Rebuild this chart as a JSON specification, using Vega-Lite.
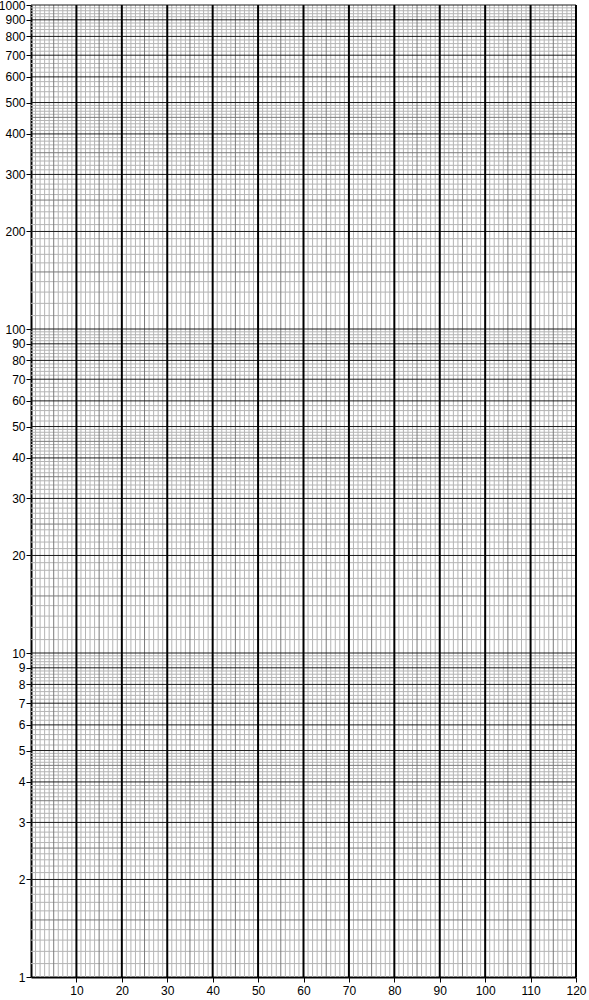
{
  "$schema": "https://vega.github.io/schema/vega-lite/v6.json",
  "width": 545,
  "height": 972,
  "autosize": "none",
  "padding": {"left": 31, "top": 5, "right": 13, "bottom": 23},
  "background": "white",
  "config": {
    "view": {"stroke": null},
    "axis": {"labelFont": "Liberation Sans", "labelFontSize": 12, "labelColor": "black", "tickColor": "black", "domainColor": "black", "grid": false, "title": null}
  },
  "datasets": {
    "vminor": [
      {"x":1},{"x":2},{"x":3},{"x":4},{"x":6},{"x":7},{"x":8},{"x":9},
      {"x":11},{"x":12},{"x":13},{"x":14},{"x":16},{"x":17},{"x":18},{"x":19},
      {"x":21},{"x":22},{"x":23},{"x":24},{"x":26},{"x":27},{"x":28},{"x":29},
      {"x":31},{"x":32},{"x":33},{"x":34},{"x":36},{"x":37},{"x":38},{"x":39},
      {"x":41},{"x":42},{"x":43},{"x":44},{"x":46},{"x":47},{"x":48},{"x":49},
      {"x":51},{"x":52},{"x":53},{"x":54},{"x":56},{"x":57},{"x":58},{"x":59},
      {"x":61},{"x":62},{"x":63},{"x":64},{"x":66},{"x":67},{"x":68},{"x":69},
      {"x":71},{"x":72},{"x":73},{"x":74},{"x":76},{"x":77},{"x":78},{"x":79},
      {"x":81},{"x":82},{"x":83},{"x":84},{"x":86},{"x":87},{"x":88},{"x":89},
      {"x":91},{"x":92},{"x":93},{"x":94},{"x":96},{"x":97},{"x":98},{"x":99},
      {"x":101},{"x":102},{"x":103},{"x":104},{"x":106},{"x":107},{"x":108},{"x":109},
      {"x":111},{"x":112},{"x":113},{"x":114},{"x":116},{"x":117},{"x":118},{"x":119}
    ],
    "vmid": [
      {"x":5},{"x":15},{"x":25},{"x":35},{"x":45},{"x":55},{"x":65},{"x":75},{"x":85},{"x":95},{"x":105},{"x":115}
    ],
    "vmajor": [
      {"x":10},{"x":20},{"x":30},{"x":40},{"x":50},{"x":60},{"x":70},{"x":80},{"x":90},{"x":100},{"x":110},{"x":120}
    ],
    "hminor": [
      {"y":1.1},{"y":1.2},{"y":1.3},{"y":1.4},{"y":1.6},{"y":1.7},{"y":1.8},{"y":1.9},
      {"y":2.1},{"y":2.2},{"y":2.3},{"y":2.4},{"y":2.6},{"y":2.7},{"y":2.8},{"y":2.9},
      {"y":3.1},{"y":3.2},{"y":3.3},{"y":3.4},{"y":3.6},{"y":3.7},{"y":3.8},{"y":3.9},
      {"y":4.1},{"y":4.2},{"y":4.3},{"y":4.4},{"y":4.6},{"y":4.7},{"y":4.8},{"y":4.9},
      {"y":5.2},{"y":5.4},{"y":5.6},{"y":5.8},{"y":6.2},{"y":6.4},{"y":6.6},{"y":6.8},
      {"y":7.2},{"y":7.4},{"y":7.6},{"y":7.8},{"y":8.2},{"y":8.4},{"y":8.6},{"y":8.8},
      {"y":9.2},{"y":9.4},{"y":9.6},{"y":9.8},
      {"y":11},{"y":12},{"y":13},{"y":14},{"y":16},{"y":17},{"y":18},{"y":19},
      {"y":21},{"y":22},{"y":23},{"y":24},{"y":26},{"y":27},{"y":28},{"y":29},
      {"y":31},{"y":32},{"y":33},{"y":34},{"y":36},{"y":37},{"y":38},{"y":39},
      {"y":41},{"y":42},{"y":43},{"y":44},{"y":46},{"y":47},{"y":48},{"y":49},
      {"y":52},{"y":54},{"y":56},{"y":58},{"y":62},{"y":64},{"y":66},{"y":68},
      {"y":72},{"y":74},{"y":76},{"y":78},{"y":82},{"y":84},{"y":86},{"y":88},
      {"y":92},{"y":94},{"y":96},{"y":98},
      {"y":110},{"y":120},{"y":130},{"y":140},{"y":160},{"y":170},{"y":180},{"y":190},
      {"y":210},{"y":220},{"y":230},{"y":240},{"y":260},{"y":270},{"y":280},{"y":290},
      {"y":310},{"y":320},{"y":330},{"y":340},{"y":360},{"y":370},{"y":380},{"y":390},
      {"y":410},{"y":420},{"y":430},{"y":440},{"y":460},{"y":470},{"y":480},{"y":490},
      {"y":520},{"y":540},{"y":560},{"y":580},{"y":620},{"y":640},{"y":660},{"y":680},
      {"y":720},{"y":740},{"y":760},{"y":780},{"y":820},{"y":840},{"y":860},{"y":880},
      {"y":920},{"y":940},{"y":960},{"y":980}
    ],
    "hmid": [
      {"y":1.5},{"y":2.5},{"y":3.5},{"y":4.5},
      {"y":15},{"y":25},{"y":35},{"y":45},
      {"y":150},{"y":250},{"y":350},{"y":450}
    ],
    "hmajor": [
      {"y":2},{"y":3},{"y":4},{"y":5},{"y":6},{"y":7},{"y":8},{"y":9},{"y":10},
      {"y":20},{"y":30},{"y":40},{"y":50},{"y":60},{"y":70},{"y":80},{"y":90},{"y":100},
      {"y":200},{"y":300},{"y":400},{"y":500},{"y":600},{"y":700},{"y":800},{"y":900},{"y":1000}
    ]
  },
  "layer": [
    {
      "data": {"name": "hminor"},
      "mark": {"type": "rule", "stroke": "#b4b4b4", "strokeWidth": 1},
      "encoding": {
        "y": {
          "field": "y", "type": "quantitative",
          "scale": {"type": "log", "domain": [1, 1000], "nice": false},
          "axis": {
            "values": [1,2,3,4,5,6,7,8,9,10,20,30,40,50,60,70,80,90,100,200,300,400,500,600,700,800,900,1000],
            "format": "d", "tickSize": 5, "labelPadding": 1, "domainWidth": 2, "labelFlush": false, "labelOverlap": false
          }
        }
      }
    },
    {
      "data": {"name": "vminor"},
      "mark": {"type": "rule", "stroke": "#b4b4b4", "strokeWidth": 1},
      "encoding": {
        "x": {
          "field": "x", "type": "quantitative",
          "scale": {"domain": [0, 120], "nice": false},
          "axis": {
            "values": [10,20,30,40,50,60,70,80,90,100,110,120],
            "tickSize": 5, "labelPadding": 3, "domainWidth": 2, "labelFlush": false
          }
        }
      }
    },
    {
      "data": {"name": "hmid"},
      "mark": {"type": "rule", "stroke": "#7a7a7a", "strokeWidth": 1},
      "encoding": {"y": {"field": "y", "type": "quantitative"}}
    },
    {
      "data": {"name": "vmid"},
      "mark": {"type": "rule", "stroke": "#7a7a7a", "strokeWidth": 1},
      "encoding": {"x": {"field": "x", "type": "quantitative"}}
    },
    {
      "data": {"name": "hmajor"},
      "mark": {"type": "rule", "stroke": "#1a1a1a", "strokeWidth": 1},
      "encoding": {"y": {"field": "y", "type": "quantitative"}}
    },
    {
      "data": {"name": "vmajor"},
      "mark": {"type": "rule", "stroke": "black", "strokeWidth": 2},
      "encoding": {"x": {"field": "x", "type": "quantitative"}}
    }
  ]
}
